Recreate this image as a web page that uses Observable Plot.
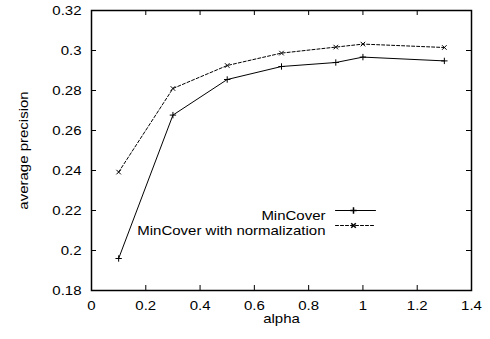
<!DOCTYPE html>
<html><head><meta charset="utf-8">
<script src="https://cdn.jsdelivr.net/npm/d3@7"></script>
<script src="https://cdn.jsdelivr.net/npm/@observablehq/plot@0.6"></script>
<style>body{margin:0;background:#fff;font-family:"Liberation Sans",Arial,sans-serif;}</style>
</head><body><div id="chart"></div>
<script>
const alphas = [0.1, 0.3, 0.5, 0.7, 0.9, 1.0, 1.3];
const minCover = [0.196, 0.2677, 0.2855, 0.292, 0.294, 0.2967, 0.2948];
const minCoverNorm = [0.2392, 0.281, 0.2925, 0.2987, 0.3017, 0.3032, 0.3015];
const seriesNames = ["MinCover", "MinCover with normalization"];
const xTicks = [0, 0.2, 0.4, 0.6, 0.8, 1, 1.2, 1.4];
const yTicks = [0.18, 0.2, 0.22, 0.24, 0.26, 0.28, 0.3, 0.32];

const s1 = alphas.map((a, i) => ({x: a, y: minCover[i]}));
const s2 = alphas.map((a, i) => ({x: a, y: minCoverNorm[i]}));
const fmt = d => String(+d.toFixed(2));
const lineShape = {draw(ctx, l) { ctx.moveTo(0, 0); ctx.lineTo(0, -l); }};
const fs = 13.5;
const stretch = 1.11;
const frameH = 339 - 10 - 49, frameW = 490 - 91 - 19, tl = 5;
const mr = 2.2;

const chart = Plot.plot({
  width: 490, height: 339,
  marginLeft: 91, marginRight: 19, marginTop: 10, marginBottom: 49,
  style: {fontFamily: '"Liberation Sans", Arial, sans-serif', fontSize: fs + "px", color: "black", background: "white"},
  x: {domain: [0, 1.4]},
  y: {domain: [0.18, 0.32]},
  marks: [
    Plot.axisX(xTicks, {tickSize: 0, tickPadding: 10, tickFormat: fmt, fontSize: fs, label: "alpha", labelAnchor: "center", labelOffset: 32, labelArrow: false}),
    Plot.axisY(yTicks, {tickSize: 0, tickPadding: 10, tickFormat: fmt, fontSize: fs, label: "average precision", labelAnchor: "center", labelOffset: 73, labelArrow: false}),
    Plot.tickX(xTicks, {x: d => d, insetTop: frameH - tl, stroke: "black"}),
    Plot.tickX(xTicks, {x: d => d, insetBottom: frameH - tl, stroke: "black"}),
    Plot.tickY(yTicks, {y: d => d, insetRight: frameW - tl, stroke: "black"}),
    Plot.tickY(yTicks, {y: d => d, insetLeft: frameW - tl, stroke: "black"}),
    Plot.line(s1, {x: "x", y: "y", stroke: "black", strokeWidth: 1}),
    Plot.line(s2, {x: "x", y: "y", stroke: "black", strokeWidth: 1, strokeDasharray: "3,2"}),
    Plot.dot(s1, {x: "x", y: "y", symbol: "plus", r: mr, stroke: "black", strokeWidth: 1}),
    Plot.dot(s2, {x: "x", y: "y", symbol: "times", r: mr, stroke: "black", strokeWidth: 1}),
    Plot.frame({stroke: "black", strokeWidth: 1.5}),
    // legend
    Plot.text([seriesNames[0]], {text: d => d, frameAnchor: "top-left", dx: 234, dy: 200, textAnchor: "end", fontSize: fs}),
    Plot.text([seriesNames[1]], {text: d => d, frameAnchor: "top-left", dx: 234, dy: 215, textAnchor: "end", fontSize: fs}),
    Plot.vector([0], {frameAnchor: "top-left", dx: 244, dy: 200, length: 40, rotate: 90, anchor: "start", shape: lineShape, stroke: "black", strokeWidth: 1}),
    Plot.vector([0], {frameAnchor: "top-left", dx: 244, dy: 215, length: 40, rotate: 90, anchor: "start", shape: lineShape, stroke: "black", strokeWidth: 1, strokeDasharray: "3,2"}),
    Plot.dot([0], {frameAnchor: "top-left", dx: 262, dy: 200, symbol: "plus", r: mr, stroke: "black"}),
    Plot.dot([0], {frameAnchor: "top-left", dx: 262, dy: 215, symbol: "times", r: mr, stroke: "black"})
  ]
});
document.getElementById("chart").appendChild(chart);
chart.querySelectorAll("text").forEach(t => {
  const L = t.getComputedTextLength();
  if (L > 0) {
    t.setAttribute("textLength", (L * stretch).toFixed(2));
    t.setAttribute("lengthAdjust", "spacingAndGlyphs");
  }
});
</script>
</body></html>
